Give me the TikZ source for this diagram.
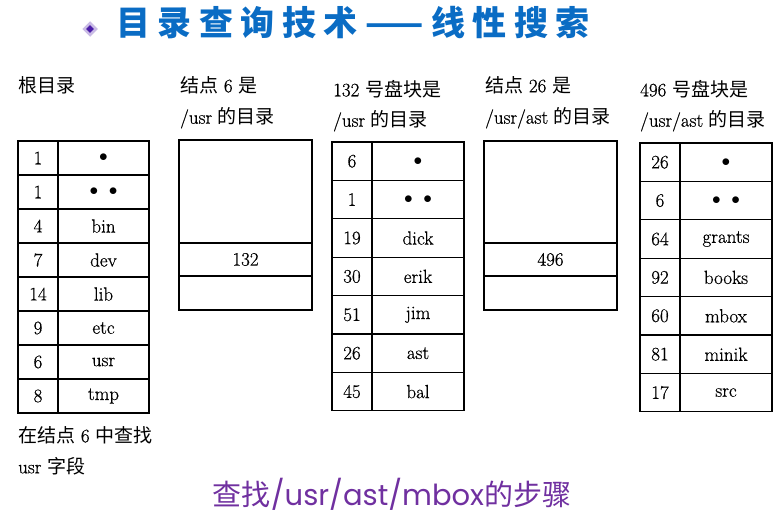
\documentclass[tikz,border=0pt]{standalone}
\usepackage{fontspec}
\usetikzlibrary{shapes.geometric}
\setmainfont{Latin Modern Roman}[FakeBold=0.6]
\newfontfamily\cjk{Noto Sans CJK SC}
\newfontfamily\gothic{Poppins}
\definecolor{titleblue}{HTML}{0A6CC4}
\definecolor{stepviolet}{HTML}{7030A0}
\definecolor{bulletviolet}{HTML}{4B1EA8}
\newcommand{\tabfont}{\fontsize{19}{22}\selectfont}
\newcommand{\headfont}{\fontsize{19}{22}\selectfont}

\begin{document}
\begin{tikzpicture}[x=1pt,y=-1pt,
    cell/.style ={draw, line width=1.1pt, anchor=north west, inner sep=0pt, outer sep=0pt, font=\tabfont},
    rootnum/.style ={cell, minimum width=40pt, minimum height=34pt},
    rootname/.style ={cell, minimum width=91pt, minimum height=34pt},
    blknum/.style ={cell, minimum width=40pt, minimum height=38.4pt},
    blkname/.style ={cell, minimum width=92pt, minimum height=38.4pt},
    inode/.style ={cell, minimum width=133pt},
    head/.style ={anchor=west, inner sep=0pt, font=\headfont}]
   \useasboundingbox (0,0) rectangle (773,514);

   % title
   \node[diamond, fill=bulletviolet, draw=bulletviolet!30, line width=2.5pt, inner sep=0pt, minimum size=13pt] (dot) at (90,29) {};
   \node[text=titleblue, font=\fontsize{34}{36}\cjk\bfseries\addfontfeature{LetterSpace=22}] (title) at (353,23) {目录查询技术——线性搜索};

   % headings
   \node[head] (h1)  at (18,85)  {\cjk 根目录};
   \node[head] (h2a) at (180,85) {{\cjk 结点} 6 {\cjk 是}};
   \node[head] (h2b) at (180,118) {/usr {\cjk 的目录}};
   \node[head] (h3a) at (333,89) {132 {\cjk 号盘块是}};
   \node[head] (h3b) at (333,121) {/usr {\cjk 的目录}};
   \node[head] (h4a) at (485,85) {{\cjk 结点} 26 {\cjk 是}};
   \node[head] (h4b) at (485,118) {/usr/ast {\cjk 的目录}};
   \node[head] (h5a) at (640,89) {496 {\cjk 号盘块是}};
   \node[head] (h5b) at (640,121) {/usr/ast {\cjk 的目录}};

   % root directory
   \node[rootnum]  (r1n) at (18,141) {1};
   \node[rootname] (r1f) at (58,141) {$\bullet$};
   \node[rootnum]  (r2n) at (18,175) {1};
   \node[rootname] (r2f) at (58,175) {$\bullet\ \;\bullet$};
   \node[rootnum]  (r3n) at (18,209) {4};
   \node[rootname] (r3f) at (58,209) {bin};
   \node[rootnum]  (r4n) at (18,243) {7};
   \node[rootname] (r4f) at (58,243) {dev};
   \node[rootnum]  (r5n) at (18,277) {14};
   \node[rootname] (r5f) at (58,277) {lib};
   \node[rootnum]  (r6n) at (18,311) {9};
   \node[rootname] (r6f) at (58,311) {etc};
   \node[rootnum]  (r7n) at (18,345) {6};
   \node[rootname] (r7f) at (58,345) {usr};
   \node[rootnum]  (r8n) at (18,379) {8};
   \node[rootname] (r8f) at (58,379) {tmp};

   % i-node 6
   \node[inode, minimum height=103pt] (i6a) at (179,140) {};
   \node[inode, minimum height=33pt]  (i6b) at (179,243) {132};
   \node[inode, minimum height=34pt]  (i6c) at (179,276) {};

   % block 132
   \node[blknum]  (u1n) at (332,142) {6};
   \node[blkname] (u1f) at (372,142) {$\bullet$};
   \node[blknum]  (u2n) at (332,180.4) {1};
   \node[blkname] (u2f) at (372,180.4) {$\bullet\ \;\bullet$};
   \node[blknum]  (u3n) at (332,218.8) {19};
   \node[blkname] (u3f) at (372,218.8) {dick};
   \node[blknum]  (u4n) at (332,257.2) {30};
   \node[blkname] (u4f) at (372,257.2) {erik};
   \node[blknum]  (u5n) at (332,295.6) {51};
   \node[blkname] (u5f) at (372,295.6) {jim};
   \node[blknum]  (u6n) at (332,334) {26};
   \node[blkname] (u6f) at (372,334) {ast};
   \node[blknum]  (u7n) at (332,372.4) {45};
   \node[blkname] (u7f) at (372,372.4) {bal};

   % i-node 26
   \node[inode, minimum height=102pt] (i26a) at (484,141) {};
   \node[inode, minimum height=33pt]  (i26b) at (484,243) {496};
   \node[inode, minimum height=34pt]  (i26c) at (484,276) {};

   % block 496
   \node[blknum]  (a1n) at (640,143) {26};
   \node[blkname] (a1f) at (680,143) {$\bullet$};
   \node[blknum]  (a2n) at (640,181.4) {6};
   \node[blkname] (a2f) at (680,181.4) {$\bullet\ \;\bullet$};
   \node[blknum]  (a3n) at (640,219.8) {64};
   \node[blkname] (a3f) at (680,219.8) {grants};
   \node[blknum]  (a4n) at (640,258.2) {92};
   \node[blkname] (a4f) at (680,258.2) {books};
   \node[blknum]  (a5n) at (640,296.6) {60};
   \node[blkname] (a5f) at (680,296.6) {mbox};
   \node[blknum]  (a6n) at (640,335) {81};
   \node[blkname] (a6f) at (680,335) {minik};
   \node[blknum]  (a7n) at (640,373.4) {17};
   \node[blkname] (a7f) at (680,373.4) {src};

   % note and caption
   \node[head] (n1) at (18,435) {{\cjk 在结点} 6 {\cjk 中查找}};
   \node[head] (n2) at (18,466) {usr {\cjk 字段}};
   \node[text=stepviolet, inner sep=0pt, font=\fontsize{29}{31}\selectfont] (cap) at (392,494)
        {{\cjk 查找}{\gothic /usr/ast/mbox}{\cjk 的步骤}};
 \end{tikzpicture}
\end{document}
